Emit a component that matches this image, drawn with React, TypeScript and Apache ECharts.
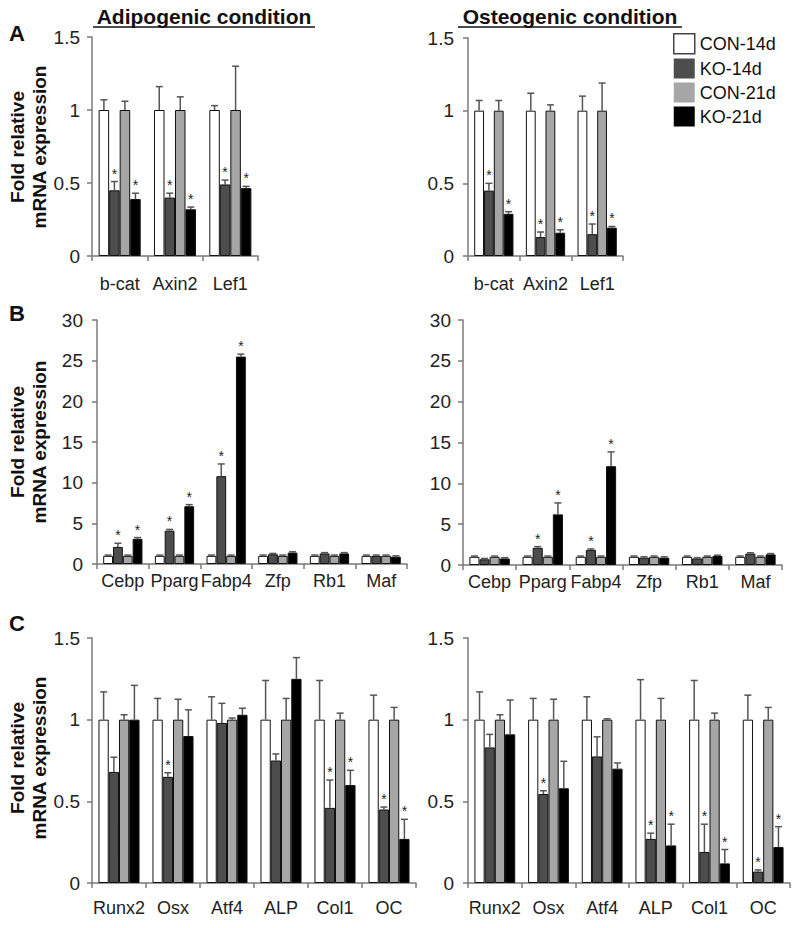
import React, { useEffect, useRef } from "react";
import * as echarts from "echarts";

const SERIES = ["CON-14d", "KO-14d", "CON-21d", "KO-21d"];
const COLORS = ["#ffffff", "#4d4d4d", "#a6a6a6", "#000000"];

// Panel A
const catsA = ["b-cat", "Axin2", "Lef1"];
const adiA_mean = [
  [1, 1, 1],
  [0.45, 0.4, 0.49],
  [1, 1, 1],
  [0.39, 0.32, 0.465],
];
const adiA_sd = [
  [0.07, 0.16, 0.03],
  [0.06, 0.03, 0.03],
  [0.06, 0.09, 0.3],
  [0.04, 0.015, 0.012],
];
const adiA_star = [
  [0, 0, 0],
  [1, 1, 1],
  [0, 0, 0],
  [1, 1, 1],
];
const osA_mean = [
  [1, 1, 1],
  [0.45, 0.13, 0.15],
  [1, 1, 1],
  [0.29, 0.16, 0.195],
];
const osA_sd = [
  [0.07, 0.12, 0.1],
  [0.05, 0.035, 0.07],
  [0.07, 0.04, 0.19],
  [0.015, 0.02, 0.008],
];
const osA_star = [
  [0, 0, 0],
  [1, 1, 1],
  [0, 0, 0],
  [1, 1, 1],
];

// Panel B
const catsB = ["Cebp", "Pparg", "Fabp4", "Zfp", "Rb1", "Maf"];
const adiB_mean = [
  [1, 1, 1, 1, 1, 1],
  [2.1, 4.1, 10.8, 1.2, 1.3, 1.0],
  [1, 1, 1, 1, 1, 1],
  [3.1, 7.1, 25.5, 1.4, 1.3, 0.9],
];
const adiB_sd = [
  [0.1, 0.1, 0.1, 0.1, 0.1, 0.1],
  [0.45, 0.15, 1.5, 0.1, 0.1, 0.1],
  [0.1, 0.1, 0.1, 0.1, 0.1, 0.1],
  [0.15, 0.2, 0.3, 0.1, 0.1, 0.1],
];
const adiB_star = [
  [0, 0, 0, 0, 0, 0],
  [1, 1, 1, 0, 0, 0],
  [0, 0, 0, 0, 0, 0],
  [1, 1, 1, 0, 0, 0],
];
const osB_mean = [
  [1, 1, 1, 1, 1, 1],
  [0.7, 2.1, 1.85, 0.9, 0.8, 1.4],
  [1, 1, 1, 1, 1, 1],
  [0.8, 6.2, 12.1, 0.9, 1.1, 1.3],
];
const osB_sd = [
  [0.1, 0.1, 0.1, 0.1, 0.1, 0.1],
  [0.1, 0.15, 0.12, 0.1, 0.1, 0.1],
  [0.1, 0.1, 0.1, 0.1, 0.1, 0.1],
  [0.1, 1.4, 1.75, 0.1, 0.1, 0.1],
];
const osB_star = [
  [0, 0, 0, 0, 0, 0],
  [0, 1, 1, 0, 0, 0],
  [0, 0, 0, 0, 0, 0],
  [0, 1, 1, 0, 0, 0],
];

// Panel C
const catsC = ["Runx2", "Osx", "Atf4", "ALP", "Col1", "OC"];
const adiC_mean = [
  [1, 1, 1, 1, 1, 1],
  [0.68, 0.65, 0.98, 0.75, 0.46, 0.45],
  [1, 1, 1, 1, 1, 1],
  [1.0, 0.9, 1.03, 1.25, 0.6, 0.27],
];
const adiC_sd = [
  [0.17, 0.13, 0.14, 0.24, 0.24, 0.15],
  [0.09, 0.025, 0.12, 0.04, 0.17, 0.015],
  [0.03, 0.125, 0.01, 0.13, 0.04, 0.075],
  [0.21, 0.16, 0.04, 0.13, 0.09, 0.12],
];
const adiC_star = [
  [0, 0, 0, 0, 0, 0],
  [0, 1, 0, 0, 1, 1],
  [0, 0, 0, 0, 0, 0],
  [0, 0, 0, 0, 1, 1],
];
const osC_mean = [
  [1, 1, 1, 1, 1, 1],
  [0.83, 0.545, 0.775, 0.27, 0.19, 0.07],
  [1, 1, 1, 1, 1, 1],
  [0.91, 0.58, 0.7, 0.23, 0.12, 0.22],
];
const osC_sd = [
  [0.17, 0.13, 0.14, 0.245, 0.24, 0.15],
  [0.08, 0.02, 0.12, 0.035, 0.17, 0.01],
  [0.03, 0.125, 0.005, 0.13, 0.04, 0.075],
  [0.21, 0.165, 0.035, 0.13, 0.085, 0.125],
];
const osC_star = [
  [0, 0, 0, 0, 0, 0],
  [0, 1, 0, 1, 1, 1],
  [0, 0, 0, 0, 0, 0],
  [0, 0, 0, 1, 1, 1],
];

const FONT = '"Liberation Sans", Arial, Helvetica, sans-serif';
const GAP = 0.24;
const AXIS_COLOR = "#7a7a7a";

type PanelDef = {
  grid: { left: number; top: number; width: number; height: number };
  cats: string[];
  mean: number[][];
  sd: number[][];
  star: number[][];
  max: number;
  interval: number;
  xMargin: number;
  yMargin: number;
};

const panels: PanelDef[] = [
  { grid: { left: 92, top: 37, width: 166, height: 219 }, cats: catsA, mean: adiA_mean, sd: adiA_sd, star: adiA_star, max: 1.5, interval: 0.5, xMargin: 19, yMargin: 12 },
  { grid: { left: 468, top: 38, width: 155, height: 218 }, cats: catsA, mean: osA_mean, sd: osA_sd, star: osA_star, max: 1.5, interval: 0.5, xMargin: 19, yMargin: 14 },
  { grid: { left: 97, top: 320, width: 310, height: 244 }, cats: catsB, mean: adiB_mean, sd: adiB_sd, star: adiB_star, max: 30, interval: 5, xMargin: 8, yMargin: 14 },
  { grid: { left: 463, top: 320, width: 319, height: 245 }, cats: catsB, mean: osB_mean, sd: osB_sd, star: osB_star, max: 30, interval: 5, xMargin: 8, yMargin: 12 },
  { grid: { left: 92, top: 638, width: 324, height: 245 }, cats: catsC, mean: adiC_mean, sd: adiC_sd, star: adiC_star, max: 1.5, interval: 0.5, xMargin: 16, yMargin: 12 },
  { grid: { left: 468, top: 638, width: 322, height: 245 }, cats: catsC, mean: osC_mean, sd: osC_sd, star: osC_star, max: 1.5, interval: 0.5, xMargin: 16, yMargin: 14 },
];

function renderErr(params: any, api: any) {
  const cat = api.value(0);
  const mean = api.value(1);
  const sd = api.value(2);
  const star = api.value(3);
  const s = api.value(4);
  const band = api.size([1, 0])[0];
  const bw = (band * (1 - GAP)) / 4;
  const c = api.coord([cat, mean]);
  const t = api.coord([cat, mean + sd]);
  const x = c[0] - 2 * bw + bw * (s + 0.5);
  const children: any[] = [
    { type: "line", shape: { x1: x, y1: c[1], x2: x, y2: t[1] }, style: { stroke: "#555", lineWidth: 1.5 } },
    { type: "line", shape: { x1: x - 3.5, y1: t[1], x2: x + 3.5, y2: t[1] }, style: { stroke: "#555", lineWidth: 1.5 } },
  ];
  if (star) {
    children.push({
      type: "text",
      style: {
        text: "*",
        x: x,
        y: t[1] - 1,
        align: "center",
        verticalAlign: "bottom",
        textAlign: "center",
        textVerticalAlign: "bottom",
        font: `14px ${FONT}`,
        fill: "#222",
      },
    });
  }
  return { type: "group", children };
}

function buildOption() {
  const grid: any[] = [];
  const xAxis: any[] = [];
  const yAxis: any[] = [];
  const series: any[] = [];
  panels.forEach((p, g) => {
    grid.push({ ...p.grid, containLabel: false });
    xAxis.push({
      type: "category",
      gridIndex: g,
      data: p.cats,
      axisLine: { lineStyle: { color: AXIS_COLOR, width: 1.5 } },
      axisTick: { show: true, length: 5, lineStyle: { color: AXIS_COLOR, width: 1.5 } },
      axisLabel: { interval: 0, margin: p.xMargin, fontSize: 18, color: "#222", fontFamily: FONT },
      splitLine: { show: false },
    });
    yAxis.push({
      type: "value",
      gridIndex: g,
      min: 0,
      max: p.max,
      interval: p.interval,
      axisLine: { show: true, lineStyle: { color: AXIS_COLOR, width: 1.5 } },
      axisTick: { show: true, length: 5, lineStyle: { color: AXIS_COLOR, width: 1.5 } },
      axisLabel: { margin: p.yMargin, fontSize: 19, color: "#222", fontFamily: FONT },
      splitLine: { show: false },
    });
    SERIES.forEach((name, s) => {
      series.push({
        type: "bar",
        name,
        xAxisIndex: g,
        yAxisIndex: g,
        data: p.mean[s],
        barGap: "0%",
        barCategoryGap: `${GAP * 100}%`,
        itemStyle: { color: COLORS[s], borderColor: "#111", borderWidth: 1 },
        silent: true,
      });
    });
    const errData: number[][] = [];
    SERIES.forEach((_, s) => {
      p.cats.forEach((_c, ci) => {
        errData.push([ci, p.mean[s][ci], p.sd[s][ci], p.star[s][ci], s]);
      });
    });
    series.push({
      type: "custom",
      xAxisIndex: g,
      yAxisIndex: g,
      data: errData,
      renderItem: renderErr,
      encode: { x: 0, y: 1 },
      clip: false,
      silent: true,
      z: 10,
    });
  });

  const yTitle = (y: number) => ({
    type: "text",
    x: 28,
    y,
    rotation: Math.PI / 2,
    style: {
      text: "Fold relative\nmRNA expression",
      font: `bold 19px ${FONT}`,
      lineHeight: 22,
      align: "center",
      verticalAlign: "middle",
      textAlign: "center",
      textVerticalAlign: "middle",
      fill: "#111",
    },
  });
  const letter = (t: string, y: number) => ({
    type: "text",
    x: 17,
    y,
    style: {
      text: t,
      font: `bold 22px ${FONT}`,
      align: "center",
      verticalAlign: "middle",
      textAlign: "center",
      textVerticalAlign: "middle",
      fill: "#111",
    },
  });
  const title = (t: string, cx: number, x1: number, x2: number) => [
    {
      type: "text",
      x: cx,
      y: 16,
      style: {
        text: t,
        font: `bold 21px ${FONT}`,
        align: "center",
        verticalAlign: "middle",
        textAlign: "center",
        textVerticalAlign: "middle",
        fill: "#111",
      },
    },
    { type: "line", shape: { x1, y1: 27, x2, y2: 27 }, style: { stroke: "#111", lineWidth: 1.5 } },
  ];

  return {
    animation: false,
    backgroundColor: "#ffffff",
    grid,
    xAxis,
    yAxis,
    series,
    legend: {
      orient: "vertical",
      left: 668,
      top: 28,
      itemWidth: 21,
      itemHeight: 20,
      itemGap: 4,
      icon: "rect",
      selectedMode: false,
      textStyle: { fontSize: 18, color: "#111", fontFamily: FONT },
      data: [
        { name: "CON-14d", itemStyle: { color: "#ffffff", borderColor: "#444", borderWidth: 1.5 } },
        { name: "KO-14d", itemStyle: { color: "#4d4d4d", borderWidth: 0 } },
        { name: "CON-21d", itemStyle: { color: "#a6a6a6", borderWidth: 0 } },
        { name: "KO-21d", itemStyle: { color: "#000000", borderWidth: 0 } },
      ],
    },
    graphic: [
      ...title("Adipogenic condition", 204, 93, 315),
      ...title("Osteogenic condition", 570, 458, 682),
      letter("A", 33),
      letter("B", 313),
      letter("C", 623),
      yTitle(147),
      yTitle(442),
      yTitle(758),
    ],
  };
}

export default function App() {
  const ref = useRef<HTMLDivElement>(null);
  useEffect(() => {
    document.body.style.margin = "0";
    if (!ref.current) return;
    const chart = echarts.init(ref.current, null, { renderer: "svg" });
    chart.setOption(buildOption() as any);
    return () => chart.dispose();
  }, []);
  return <div ref={ref} style={{ width: 800, height: 928 }} />;
}
